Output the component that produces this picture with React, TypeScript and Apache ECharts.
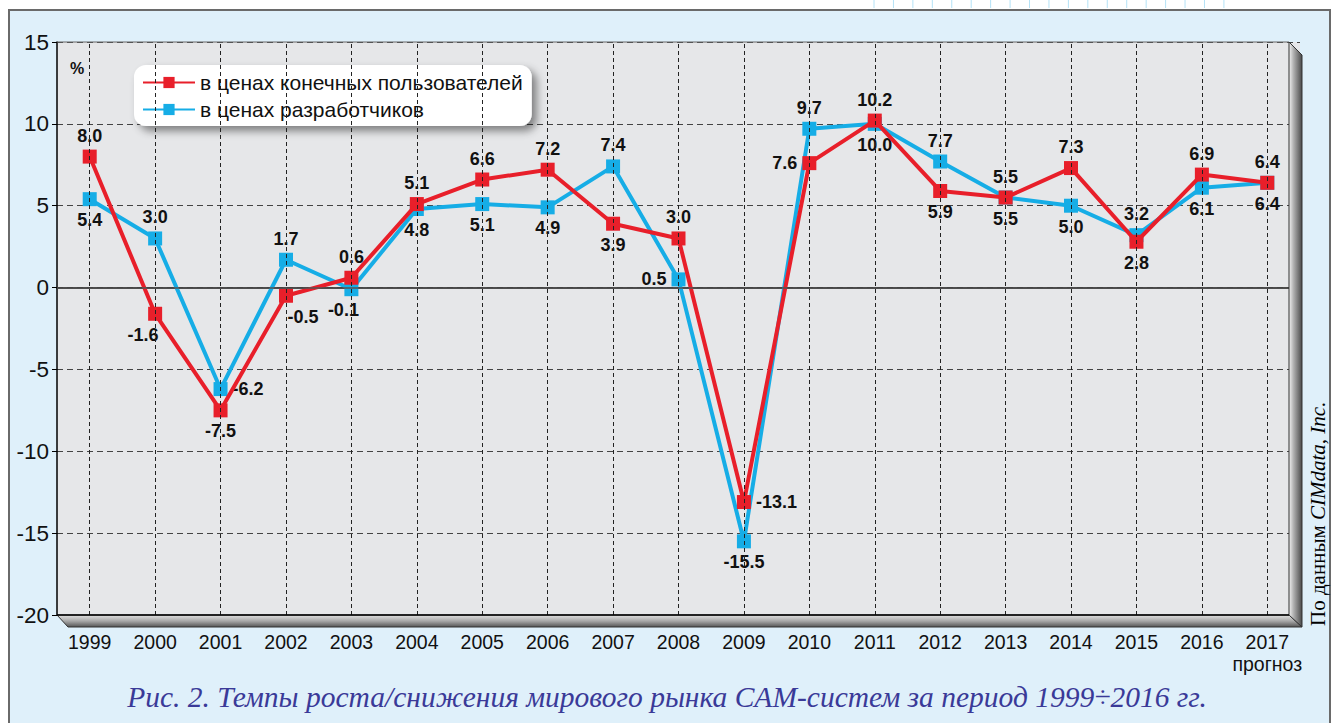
import React, { useEffect, useRef } from 'react';
import * as echarts from 'echarts';

const years = ['1999', '2000', '2001', '2002', '2003', '2004', '2005', '2006', '2007', '2008', '2009', '2010', '2011', '2012', '2013', '2014', '2015', '2016', '2017'];
const endUserPrices = [8.0, -1.6, -7.5, -0.5, 0.6, 5.1, 6.6, 7.2, 3.9, 3.0, -13.1, 7.6, 10.2, 5.9, 5.5, 7.3, 2.8, 6.9, 6.4];
const developerPrices = [5.4, 3.0, -6.2, 1.7, -0.1, 4.8, 5.1, 4.9, 7.4, 0.5, -15.5, 9.7, 10.0, 7.7, 5.5, 5.0, 3.2, 6.1, 6.4];
const seriesNames = ['в ценах конечных пользователей', 'в ценах разработчиков'];
const yMin = -20;
const yMax = 15;
const yStep = 5;
const forecastNote = 'прогноз';
const caption = 'Рис. 2. Темпы роста/снижения мирового рынка CAM-систем за период 1999÷2016 гг.';
const sourcePrefix = 'По данным ';
const sourceName = 'CIMdata, Inc.';

// label placement (style only)
const endUserLabelPos = ['top', 'bottom', 'bottom', 'bottom', 'top', 'top', 'top', 'top', 'bottom', 'top', 'right', 'left', 'top', 'bottom', 'top', 'top', 'bottom', 'top', 'top'];
const endUserLabelOff: Record<number, number[]> = { 1: [-12, 0], 3: [17, 0] };
const devLabelPos = ['bottom', 'top', 'right', 'top', 'bottom', 'bottom', 'bottom', 'bottom', 'top', 'left', 'bottom', 'top', 'bottom', 'top', 'bottom', 'bottom', 'top', 'bottom', 'bottom'];
const devLabelOff: Record<number, number[]> = { 4: [-8, 0] };

const RED = '#e81f2a';
const BLUE = '#16ade6';
const SANS = '"Liberation Sans", Arial, sans-serif';
const SERIF = '"Liberation Serif", "DejaVu Serif", serif';

export default function App() {
  const ref = useRef<HTMLDivElement>(null);
  useEffect(() => {
    if (!ref.current) return;
    const chart = echarts.init(ref.current, undefined, { renderer: 'svg' });
    const labelBase = {
      show: true,
      fontFamily: SANS,
      fontWeight: 'bold' as const,
      fontSize: 18,
      color: '#111',
      distance: 5,
      formatter: (p: any) => Number(p.value).toFixed(1),
    };
    const mk = (vals: number[], pos: string[], off: Record<number, number[]>) =>
      vals.map((v, i) => ({ value: v, label: { position: pos[i], offset: off[i] || [0, 0] } }));

    const ruled: any[] = [];
    for (let i = 0; i < 19; i++) {
      const x = 874 + i * 19.44;
      ruled.push({ type: 'line', shape: { x1: x, y1: 0, x2: x, y2: 8 }, style: { stroke: '#b4e2f6', lineWidth: 1 }, silent: true });
    }

    chart.setOption({
      animation: false,
      backgroundColor: 'transparent',
      textStyle: { fontFamily: SANS },
      grid: { left: 57, right: 35, top: 42, bottom: 108, show: true, backgroundColor: '#e6e7e9', borderWidth: 0 },
      legend: {
        data: seriesNames,
        orient: 'vertical',
        left: 134,
        top: 65,
        backgroundColor: '#ffffff',
        borderRadius: 12,
        padding: [7, 9, 6, 8],
        itemGap: 6,
        itemWidth: 52,
        itemHeight: 14,
        textStyle: { fontSize: 21, color: '#111', fontFamily: SANS },
        shadowBlur: 8,
        shadowColor: 'rgba(0,0,0,0.45)',
        shadowOffsetX: 5,
        shadowOffsetY: 5,
      },
      xAxis: {
        type: 'category',
        data: years,
        boundaryGap: true,
        axisLine: { lineStyle: { color: '#000', width: 1.5 } },
        axisTick: { alignWithLabel: true, length: 5, interval: 0, lineStyle: { color: '#000' } },
        axisLabel: {
          interval: 0,
          fontSize: 19.5,
          fontFamily: SANS,
          color: '#111',
          margin: 16,
          lineHeight: 22,
          formatter: (v: string, i: number) => (i === years.length - 1 ? v + '\n' + forecastNote : v),
        },
        splitLine: { show: false },
      },
      yAxis: {
        type: 'value',
        min: yMin,
        max: yMax,
        interval: yStep,
        axisLine: { show: true, lineStyle: { color: '#000', width: 1.5 } },
        axisTick: { show: true, length: 5, lineStyle: { color: '#000' } },
        axisLabel: { fontSize: 22.5, fontFamily: SANS, color: '#111', margin: 8 },
        splitLine: { lineStyle: { type: [6, 4], color: '#444', width: 1 } },
      },
      series: [
        {
          name: '__grid',
          type: 'line',
          data: years.map(() => null),
          z: 1,
          silent: true,
          showSymbol: false,
          markLine: {
            silent: true,
            symbol: ['none', 'none'],
            label: { show: false },
            lineStyle: { type: [4, 3], color: '#222', width: 1 },
            data: [
              ...years.map((y) => ({ xAxis: y })),
              { yAxis: 0, lineStyle: { type: 'solid', color: '#555', width: 1.5 } },
            ],
          },
        },
        {
          name: seriesNames[1],
          type: 'line',
          z: 3,
          data: mk(developerPrices, devLabelPos, devLabelOff),
          symbol: 'rect',
          symbolSize: 14,
          itemStyle: { color: BLUE },
          lineStyle: { color: BLUE, width: 4 },
          label: labelBase,
        },
        {
          name: seriesNames[0],
          type: 'line',
          z: 4,
          data: mk(endUserPrices, endUserLabelPos, endUserLabelOff),
          symbol: 'rect',
          symbolSize: 14,
          itemStyle: { color: RED },
          lineStyle: { color: RED, width: 4 },
          label: labelBase,
        },
      ],
      graphic: [
        ...ruled,
        { type: 'line', z: 10, shape: { x1: 57, y1: 42, x2: 1289, y2: 42 }, style: { stroke: '#666', lineWidth: 1 }, silent: true },
        {
          type: 'polygon',
          z: 10,
          silent: true,
          shape: { points: [[57, 615], [1289, 615], [1302, 627], [68, 627]] },
          style: {
            fill: new echarts.graphic.LinearGradient(0, 0, 0, 1, [
              { offset: 0, color: '#e2e2e2' },
              { offset: 0.5, color: '#a8a8a8' },
              { offset: 1, color: '#555' },
            ]),
            stroke: '#333',
            lineWidth: 1,
          },
        },
        {
          type: 'polygon',
          z: 10,
          silent: true,
          shape: { points: [[1289, 42], [1302, 55], [1302, 627], [1289, 615]] },
          style: {
            fill: new echarts.graphic.LinearGradient(0, 0, 1, 0, [
              { offset: 0, color: '#f2f2f2' },
              { offset: 0.35, color: '#b0b0b0' },
              { offset: 1, color: '#4a4a4a' },
            ]),
            stroke: '#333',
            lineWidth: 1,
          },
        },
        { type: 'line', z: 11, shape: { x1: 57, y1: 615, x2: 1289, y2: 615 }, style: { stroke: '#000', lineWidth: 1.5 }, silent: true },
        {
          type: 'text',
          z: 12,
          x: 70,
          y: 60,
          style: { text: '%', font: 'bold 16px ' + SANS, fill: '#111' },
        },
        {
          type: 'text',
          z: 12,
          x: 667,
          y: 697,
          style: {
            text: caption,
            font: 'italic 29.5px ' + SERIF,
            fill: '#3a3a98',
            textAlign: 'center',
            textVerticalAlign: 'middle',
          },
        },
        {
          type: 'text',
          z: 12,
          x: 1318,
          y: 626,
          rotation: Math.PI / 2,
          style: {
            text: '{a|' + sourcePrefix + '}{b|' + sourceName + '}',
            textAlign: 'left',
            textVerticalAlign: 'middle',
            rich: {
              a: { fontFamily: SERIF, fontSize: 21, color: '#111' },
              b: { fontFamily: SERIF, fontSize: 21, fontStyle: 'italic', color: '#111' },
            },
          },
        },
      ],
    });
    return () => chart.dispose();
  }, []);

  return (
    <div style={{ position: 'fixed', left: 0, top: 0, width: 1335, height: 723, background: '#ffffff', overflow: 'hidden' }}>
      <div
        style={{
          position: 'absolute',
          left: 8,
          top: 9,
          width: 1323,
          height: 720,
          background: '#dff0fa',
          border: '2px solid #6a6a6a',
          boxSizing: 'border-box',
        }}
      />
      <div ref={ref} style={{ position: 'absolute', left: 0, top: 0, width: 1335, height: 723 }} />
    </div>
  );
}
